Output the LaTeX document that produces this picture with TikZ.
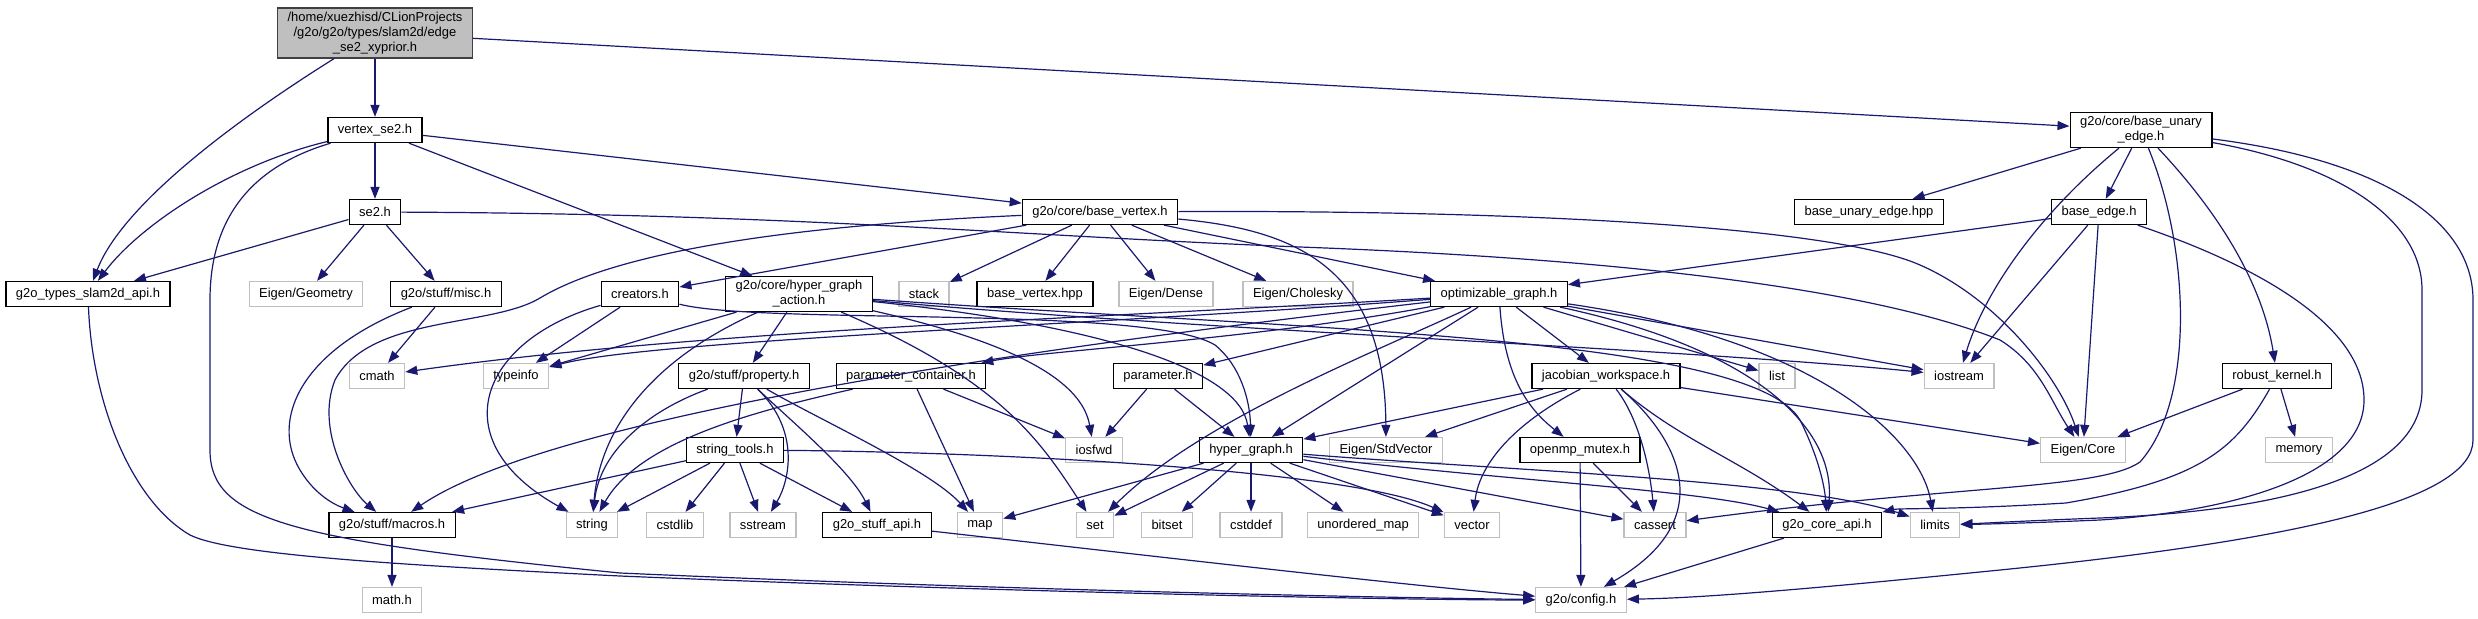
\documentclass[tikz,border=0pt]{standalone}
\usepackage{fontspec}
\setmainfont{Liberation Sans}
\usetikzlibrary{arrows.meta}
\definecolor{edgeblue}{HTML}{191970}

\begin{document}
\begin{tikzpicture}[
    x=1bp, y=-1bp,
    every node/.style={font=\fontsize{13}{15}\selectfont},
    box/.style={draw=black, line width=1.3bp, fill=white, align=center, inner xsep=10bp, inner ysep=4bp, minimum height=25bp},
    extbox/.style={box, draw=gray!50},
    topbox/.style={box, draw=black!75, fill=gray!50},
    dep/.style={draw=edgeblue, line width=1.2bp, -{Triangle[length=12bp,width=9bp]}}
]
\useasboundingbox (0,0) rectangle (2478,619);
% rows
\node[topbox] (top) at (375,33) {/home/xuezhisd/CLionProjects\\/g2o/g2o/types/slam2d/edge\\\_se2\_xyprior.h};
\node[box] (vse2) at (375,130) {vertex\_se2.h};
\node[box] (bue) at (2141,130) {g2o/core/base\_unary\\\_edge.h};
\node[box] (se2) at (375,212) {se2.h};
\node[box] (bv) at (1100,212) {g2o/core/base\_vertex.h};
\node[box] (bueh) at (1869,212) {base\_unary\_edge.hpp};
\node[box] (be) at (2099,212) {base\_edge.h};
\node[box] (tapi) at (88,294) {g2o\_types\_slam2d\_api.h};
\node[extbox] (egeo) at (306,294) {Eigen/Geometry};
\node[box] (misc) at (446,294) {g2o/stuff/misc.h};
\node[box] (creators) at (640,294) {creators.h};
\node[box] (hga) at (799,294) {g2o/core/hyper\_graph\\\_action.h};
\node[extbox] (stack) at (924,294) {stack};
\node[box] (bvh) at (1035,294) {base\_vertex.hpp};
\node[extbox] (edense) at (1166,294) {Eigen/Dense};
\node[extbox] (echol) at (1298,294) {Eigen/Cholesky};
\node[box] (og) at (1499,294) {optimizable\_graph.h};
\node[extbox] (cmath) at (377,376) {cmath};
\node[extbox] (typeinfo) at (516,376) {typeinfo};
\node[box] (prop) at (744,376) {g2o/stuff/property.h};
\node[box] (pcont) at (911,376) {parameter\_container.h};
\node[box] (param) at (1158,376) {parameter.h};
\node[box] (jac) at (1606,376) {jacobian\_workspace.h};
\node[extbox] (list) at (1777,376) {list};
\node[extbox] (iostream) at (1959,376) {iostream};
\node[box] (rk) at (2277,376) {robust\_kernel.h};
\node[box] (stools) at (735,450) {string\_tools.h};
\node[extbox] (iosfwd) at (1094,450) {iosfwd};
\node[box] (hg) at (1251,450) {hyper\_graph.h};
\node[extbox] (estdv) at (1386,450) {Eigen/StdVector};
\node[box] (omp) at (1580,450) {openmp\_mutex.h};
\node[extbox] (ecore) at (2083,450) {Eigen/Core};
\node[extbox] (memory) at (2299,450) {memory};
\node[box] (macros) at (392,525) {g2o/stuff/macros.h};
\node[extbox] (string) at (592,525) {string};
\node[extbox] (cstdlib) at (675,525) {cstdlib};
\node[extbox] (sstream) at (763,525) {sstream};
\node[box] (sapi) at (877,525) {g2o\_stuff\_api.h};
\node[extbox] (map) at (980,525) {map};
\node[extbox] (set) at (1095,525) {set};
\node[extbox] (bitset) at (1167,525) {bitset};
\node[extbox] (cstddef) at (1251,525) {cstddef};
\node[extbox] (umap) at (1363,525) {unordered\_map};
\node[extbox] (vector) at (1472,525) {vector};
\node[extbox] (cassert) at (1655,525) {cassert};
\node[box] (capi) at (1827,525) {g2o\_core\_api.h};
\node[extbox] (limits) at (1935,525) {limits};
\node[extbox] (mathh) at (392,600) {math.h};
\node[extbox] (config) at (1581,600) {g2o/config.h};

% top, vertex_se2, se2
\draw[dep] (top) -- (vse2);
\draw[dep] (top) .. controls (220,130) and (120,210) .. (tapi);
\draw[dep] (top) -- (bue);
\draw[dep] (vse2) -- (se2);
\draw[dep] (vse2) .. controls (230,165) and (140,225) .. (tapi);
\draw[dep] (vse2) -- (bv);
\draw[dep] (vse2) -- (hga);
\draw[dep] (vse2) .. controls (240,170) and (210,230) .. (210,300) -- (210,450) .. controls (210,520) and (290,540) .. (620,573) .. controls (1000,590) and (1400,598) .. (config);
\draw[dep] (se2) -- (tapi);
\draw[dep] (se2) -- (egeo);
\draw[dep] (se2) -- (misc);
\draw[dep] (se2) .. controls (800,214) and (1000,235) .. (1300,247) .. controls (1700,262) and (1900,300) .. (2000,340) .. controls (2040,365) and (2050,400) .. (ecore);
\draw[dep] (misc) -- (cmath);
\draw[dep] (misc) .. controls (300,350) and (270,420) .. (300,470) .. controls (315,495) and (335,505) .. (macros);
% base_vertex
\draw[dep] (bv) -- (creators);
\draw[dep] (bv) .. controls (800,225) and (620,250) .. (540,298) .. controls (490,328) and (370,315) .. (335,380) .. controls (315,430) and (350,490) .. (macros);
\draw[dep] (bv) -- (stack);
\draw[dep] (bv) -- (bvh);
\draw[dep] (bv) -- (edense);
\draw[dep] (bv) -- (echol);
\draw[dep] (bv) -- (og);
\draw[dep] (bv) .. controls (1300,230) and (1385,270) .. (estdv);
\draw[dep] (bv) .. controls (1500,210) and (1830,225) .. (1920,265) .. controls (2000,300) and (2060,380) .. (ecore);
% base_unary_edge
\draw[dep] (bue) -- (bueh);
\draw[dep] (bue) -- (be);
\draw[dep] (bue) .. controls (2040,213) and (1985,290) .. (iostream);
\draw[dep] (bue) .. controls (2235,230) and (2265,300) .. (rk);
\draw[dep] (bue) .. controls (2190,250) and (2195,400) .. (2140,462) .. controls (2100,490) and (1950,485) .. (cassert);
\draw[dep] (bue) .. controls (2340,165) and (2422,220) .. (2422,290) -- (2422,390) .. controls (2422,470) and (2300,510) .. (2100,518) .. controls (2020,521) and (1990,523) .. (limits);
\draw[dep] (bue) .. controls (2380,160) and (2473,220) .. (2473,300) -- (2473,440) .. controls (2473,500) and (2300,540) .. (2000,570) .. controls (1800,590) and (1700,598) .. (config);
% base_edge, robust_kernel
\draw[dep] (be) -- (og);
\draw[dep] (be) -- (iostream);
\draw[dep] (be) -- (ecore);
\draw[dep] (be) .. controls (2270,270) and (2364,330) .. (2364,400) .. controls (2364,470) and (2250,510) .. (2100,520) .. controls (2030,523) and (1990,524) .. (limits);
\draw[dep] (rk) -- (ecore);
\draw[dep] (rk) -- (memory);
\draw[dep] (rk) .. controls (2235,450) and (2200,480) .. (2066,503) .. controls (1950,510) and (1900,508) .. (capi);
% creators, hyper_graph_action
\draw[dep] (creators) -- (typeinfo);
\draw[dep] (creators) .. controls (480,340) and (440,440) .. (string);
\draw[dep] (creators) .. controls (760,325) and (1150,305) .. (1215,345) .. controls (1240,365) and (1250,400) .. (hg);
\draw[dep] (hga) -- (prop);
\draw[dep] (hga) -- (typeinfo);
\draw[dep] (hga) .. controls (650,360) and (600,430) .. (string);
\draw[dep] (hga) .. controls (980,335) and (1080,370) .. (iosfwd);
\draw[dep] (hga) .. controls (1000,380) and (1040,440) .. (set);
\draw[dep] (hga) .. controls (1100,325) and (1240,370) .. (hg);
\draw[dep] (hga) .. controls (1300,330) and (1750,335) .. (1800,420) .. controls (1820,460) and (1825,490) .. (capi);
\draw[dep] (hga) .. controls (1200,330) and (1700,350) .. (iostream);
% optimizable_graph
\draw[dep] (og) .. controls (1100,318) and (700,330) .. (cmath);
\draw[dep] (og) .. controls (1100,325) and (650,340) .. (typeinfo);
\draw[dep] (og) .. controls (1100,340) and (560,410) .. (macros);
\draw[dep] (og) .. controls (1250,340) and (1050,350) .. (pcont);
\draw[dep] (og) -- (param);
\draw[dep] (og) -- (hg);
\draw[dep] (og) .. controls (1380,350) and (1200,420) .. (set);
\draw[dep] (og) .. controls (1505,380) and (1530,410) .. (omp);
\draw[dep] (og) -- (jac);
\draw[dep] (og) -- (list);
\draw[dep] (og) -- (iostream);
\draw[dep] (og) .. controls (1760,350) and (1835,430) .. (capi);
\draw[dep] (og) .. controls (1820,340) and (1920,440) .. (limits);
% parameters, jacobian, mutex
\draw[dep] (pcont) -- (iosfwd);
\draw[dep] (pcont) -- (map);
\draw[dep] (pcont) .. controls (760,410) and (640,440) .. (string);
\draw[dep] (param) -- (iosfwd);
\draw[dep] (param) -- (hg);
\draw[dep] (jac) -- (hg);
\draw[dep] (jac) -- (estdv);
\draw[dep] (jac) .. controls (1520,420) and (1480,460) .. (vector);
\draw[dep] (jac) .. controls (1640,420) and (1650,470) .. (cassert);
\draw[dep] (jac) .. controls (1680,440) and (1740,460) .. (capi);
\draw[dep] (jac) .. controls (1680,440) and (1720,520) .. (config);
\draw[dep] (jac) -- (ecore);
\draw[dep] (omp) -- (config);
\draw[dep] (omp) -- (cassert);
% hyper_graph
\draw[dep] (hg) -- (map);
\draw[dep] (hg) -- (set);
\draw[dep] (hg) -- (bitset);
\draw[dep] (hg) -- (cstddef);
\draw[dep] (hg) -- (umap);
\draw[dep] (hg) -- (vector);
\draw[dep] (hg) -- (cassert);
\draw[dep] (hg) .. controls (1500,480) and (1700,490) .. (capi);
\draw[dep] (hg) .. controls (1500,470) and (1800,480) .. (limits);
% property, string_tools
\draw[dep] (prop) -- (stools);
\draw[dep] (prop) .. controls (650,410) and (600,450) .. (string);
\draw[dep] (prop) .. controls (800,430) and (790,480) .. (sstream);
\draw[dep] (prop) .. controls (790,420) and (850,470) .. (sapi);
\draw[dep] (prop) .. controls (820,420) and (930,470) .. (map);
\draw[dep] (stools) -- (macros);
\draw[dep] (stools) -- (string);
\draw[dep] (stools) -- (cstdlib);
\draw[dep] (stools) -- (sstream);
\draw[dep] (stools) -- (sapi);
\draw[dep] (stools) .. controls (1000,452) and (1350,470) .. (vector);
% leaves
\draw[dep] (macros) -- (mathh);
\draw[dep] (sapi) .. controls (1100,550) and (1400,585) .. (config);
\draw[dep] (capi) -- (config);
\draw[dep] (tapi) .. controls (92,400) and (130,500) .. (190,535) .. controls (230,555) and (400,565) .. (620,576) .. controls (1000,592) and (1400,600) .. (config);
\end{tikzpicture}
\end{document}
